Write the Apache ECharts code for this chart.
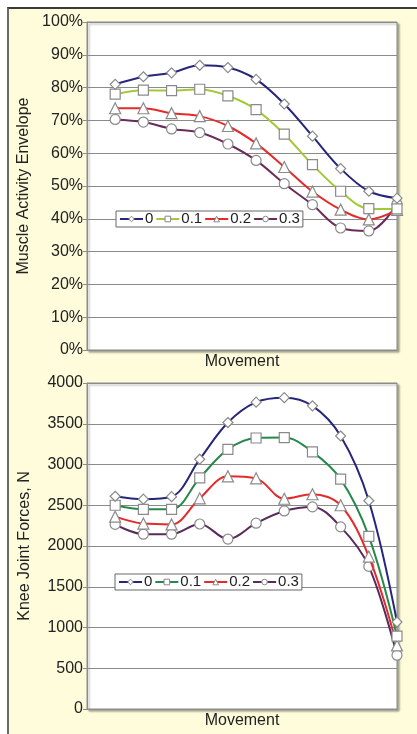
<!DOCTYPE html>
<html>
<head>
<meta charset="utf-8">
<script src="https://cdn.jsdelivr.net/npm/echarts@6/dist/echarts.min.js"></script>
<style>
html,body{margin:0;padding:0;background:#fff;overflow:hidden;}
#wrap{position:absolute;left:0;top:0;width:417px;height:734px;overflow:hidden;}
#frame{position:absolute;left:7px;top:7px;width:420px;height:740px;border-left:2px solid #6a6a6a;border-top:2px solid #3a3a3a;background:#FEFCDA;}
#chart{position:absolute;left:0;top:0;width:417px;height:734px;}
</style>
</head>
<body>
<div id="wrap"><div id="frame"></div><div id="chart"></div></div>
<script>
// x positions (first slot left empty, as in the reference)
const movement = ['', '1', '2', '3', '4', '5', '6', '7', '8', '9', '10', '11'];
const seriesNames = ['0', '0.1', '0.2', '0.3'];

// Muscle Activity Envelope (%)
const muscle0  = [81.0, 83.3, 84.5, 86.8, 86.1, 82.5, 75.0, 65.2, 55.3, 48.4, 46.3];
const muscle01 = [78.0, 79.2, 79.1, 79.5, 77.5, 73.3, 65.8, 56.5, 48.4, 43.1, 43.0];
const muscle02 = [73.7, 73.7, 72.2, 71.3, 68.3, 63.0, 55.8, 48.3, 42.8, 39.8, 42.7];
const muscle03 = [70.3, 69.5, 67.4, 66.3, 62.8, 57.8, 50.7, 44.3, 37.2, 36.3, 44.5];

// Knee Joint Forces (N)
const knee0  = [2610, 2575, 2605, 3065, 3515, 3765, 3820, 3720, 3350, 2555, 1068];
const knee01 = [2500, 2450, 2450, 2835, 3185, 3325, 3330, 3155, 2820, 2118, 893];
const knee02 = [2360, 2275, 2265, 2585, 2855, 2830, 2580, 2635, 2500, 1870, 780];
const knee03 = [2265, 2145, 2145, 2270, 2085, 2280, 2430, 2480, 2235, 1750, 660];

// y tick settings
const muscleTicks = {min: 0, max: 100, interval: 10};
const kneeTicks = {min: 0, max: 4000, interval: 500};

const topColors = ['#26267A', '#A3C93A', '#E42A2A', '#6A2C5A'];
const botColors = ['#26267A', '#27884C', '#E42A2A', '#5A2A5C'];
const symbols = ['diamond', 'rect', 'triangle', 'circle'];
const symbolSizes = [10, 10, 11, 10];

const font = 'Liberation Sans, Arial, sans-serif';

function pad(arr){ return ['-'].concat(arr); }

const topData = [muscle0, muscle01, muscle02, muscle03];
const botData = [knee0, knee01, knee02, knee03];

const series = [];
for (let i = 0; i < 4; i++) {
  series.push({
    name: seriesNames[i], type: 'line', xAxisIndex: 0, yAxisIndex: 0,
    data: pad(topData[i]), smooth: 0.35, symbol: symbols[i], symbolSize: symbolSizes[i],
    lineStyle: {color: topColors[i], width: 2},
    itemStyle: {color: '#fff', borderColor: '#8a8a8a', borderWidth: 1.2},
    z: 3 + (3 - i)
  });
}
for (let i = 0; i < 4; i++) {
  series.push({
    name: seriesNames[i], type: 'line', xAxisIndex: 1, yAxisIndex: 1,
    data: pad(botData[i]), smooth: 0.35, symbol: symbols[i], symbolSize: symbolSizes[i],
    lineStyle: {color: botColors[i], width: 2},
    itemStyle: {color: '#fff', borderColor: '#8a8a8a', borderWidth: 1.2},
    z: 3 + (3 - i)
  });
}

function legendData(colors){
  return seriesNames.map((n, i) => ({
    name: n,
    itemStyle: {color: '#fff', borderColor: '#8a8a8a', borderWidth: 1},
    lineStyle: {color: colors[i], width: 2}
  }));
}

const legendCommon = {
  orient: 'horizontal', itemWidth: 23, itemHeight: 7, itemGap: 2,
  padding: [0, 3], backgroundColor: '#fff', borderColor: '#666', borderWidth: 1,
  selectedMode: false,
  textStyle: {fontFamily: font, fontSize: 15, color: '#222', padding: [0, 0, 0, -3], lineHeight: 16}
};

const gridStyle = {
  show: true, backgroundColor: '#fff', borderColor: '#8c8c8c', borderWidth: 1,
  shadowColor: 'rgba(0,0,0,0.35)', shadowBlur: 2, shadowOffsetX: 2, shadowOffsetY: 2
};

function xAxisCfg(gridIndex){
  return {
    type: 'category', gridIndex, data: movement, boundaryGap: false,
    axisLine: {show: true, lineStyle: {color: '#8c8c8c'}},
    axisTick: {show: false}, axisLabel: {show: false}, splitLine: {show: false},
    name: 'Movement', nameLocation: 'middle', nameGap: 4,
    nameTextStyle: {fontFamily: font, fontSize: 16, color: '#222', verticalAlign: 'top'}
  };
}
function yAxisCfg(gridIndex, ticks, name, fmt){
  return {
    type: 'value', gridIndex, min: ticks.min, max: ticks.max, interval: ticks.interval,
    axisLine: {show: true, lineStyle: {color: '#8c8c8c'}},
    axisTick: {show: true, length: 4, lineStyle: {color: '#8c8c8c'}},
    axisLabel: {fontFamily: font, fontSize: 16, color: '#222', margin: 4, formatter: fmt},
    splitLine: {show: true, lineStyle: {color: '#8a8a8a', width: 1}},
    name, nameLocation: 'middle', nameGap: 54,
    nameTextStyle: {fontFamily: font, fontSize: 16, color: '#222'}
  };
}

const option = {
  animation: false,
  backgroundColor: 'transparent',
  grid: [
    Object.assign({left: 87, top: 22, width: 310, height: 328}, gridStyle),
    Object.assign({left: 87, top: 383, width: 310, height: 326}, gridStyle)
  ],
  xAxis: [xAxisCfg(0), xAxisCfg(1)],
  yAxis: [
    yAxisCfg(0, muscleTicks, 'Muscle Activity Envelope', v => v + '%'),
    yAxisCfg(1, kneeTicks, 'Knee Joint Forces, N', v => String(v))
  ],
  legend: [
    Object.assign({left: 116, top: 211, data: legendData(topColors)}, legendCommon),
    Object.assign({left: 115, top: 574, data: legendData(botColors)}, legendCommon)
  ],
  series
};

const chart = echarts.init(document.getElementById('chart'), null, {renderer: 'canvas'});
chart.setOption(option);
</script>
</body>
</html>
